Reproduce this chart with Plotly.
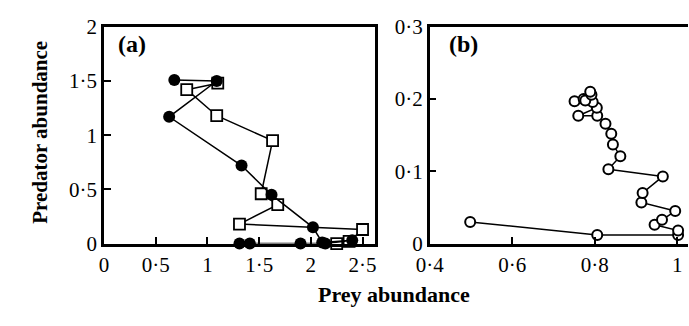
import plotly.graph_objects as go

# Panel (a): filled circles series
a_circ_x = [0.68, 1.09, 0.63, 1.33, 1.62, 2.02, 2.11, 2.40, 2.14, 1.90, 1.41, 1.31]
a_circ_y = [1.51, 1.50, 1.17, 0.72, 0.45, 0.15, 0.01, 0.03, 0.00, 0.00, 0.00, 0.00]
# Panel (a): open squares series
a_sq_x = [1.10, 0.80, 1.09, 1.63, 1.52, 1.68, 1.31, 2.50, 2.37, 2.25]
a_sq_y = [1.48, 1.42, 1.18, 0.95, 0.46, 0.36, 0.18, 0.13, 0.02, 0.00]
# Panel (b): open circles trajectory
b_x = [0.498, 0.806, 1.002, 1.002, 0.945, 0.963, 0.995, 0.913, 0.916, 0.965,
       0.833, 0.862, 0.844, 0.840, 0.826, 0.806, 0.760, 0.805, 0.795, 0.751,
       0.773, 0.777, 0.792, 0.789]
b_y = [0.030, 0.012, 0.012, 0.018, 0.026, 0.033, 0.045, 0.057, 0.070, 0.093,
       0.103, 0.121, 0.137, 0.152, 0.166, 0.177, 0.177, 0.188, 0.196, 0.197,
       0.200, 0.198, 0.206, 0.210]

a_xticks = [0, 0.5, 1, 1.5, 2, 2.5]
a_xtext = ["0", "0·5", "1", "1·5", "2", "2·5"]
a_yticks = [0, 0.5, 1, 1.5, 2]
a_ytext = ["0", "0·5", "1", "1·5", "2"]
b_xticks = [0.4, 0.6, 0.8, 1.0]
b_xtext = ["0·4", "0·6", "0·8", "1"]
b_yticks = [0, 0.1, 0.2, 0.3]
b_ytext = ["0", "0·1", "0·2", "0·3"]

W, H = 689, 326
FONT = "Liberation Serif"

fig = go.Figure()
fig.add_trace(go.Scatter(x=a_sq_x, y=a_sq_y, mode="lines+markers", xaxis="x", yaxis="y",
                         line=dict(color="black", width=1.5),
                         marker=dict(symbol="square", size=11, color="white",
                                     line=dict(color="black", width=1.8)),
                         cliponaxis=False, showlegend=False))
fig.add_trace(go.Scatter(x=a_circ_x, y=a_circ_y, mode="lines+markers", xaxis="x", yaxis="y",
                         line=dict(color="black", width=1.5),
                         marker=dict(symbol="circle", size=12, color="black"),
                         cliponaxis=False, showlegend=False))
fig.add_trace(go.Scatter(x=b_x, y=b_y, mode="lines+markers", xaxis="x2", yaxis="y2",
                         line=dict(color="black", width=1.5),
                         marker=dict(symbol="circle", size=10, color="white",
                                     line=dict(color="black", width=2)),
                         cliponaxis=False, showlegend=False))

ydom = [(H - 250) / H, (H - 16) / H]
axcommon = dict(showgrid=False, zeroline=False, showline=True, linecolor="black",
                linewidth=2.5, ticks="inside", ticklen=7, tickwidth=1.5,
                tickcolor="black", tickfont=dict(family=FONT, size=21, color="black"))

fig.update_layout(
    width=W, height=H,
    margin=dict(l=0, r=0, t=0, b=0),
    plot_bgcolor="white", paper_bgcolor="white",
    xaxis=dict(domain=[92 / W, 369 / W], range=[0, 2.62], tickmode="array",
               tickvals=a_xticks, ticktext=a_xtext, mirror=True, anchor="y", **axcommon),
    yaxis=dict(domain=ydom, range=[0, 2], tickmode="array",
               tickvals=a_yticks, ticktext=a_ytext, mirror=True, anchor="x", **axcommon),
    xaxis2=dict(domain=[425 / W, 1.0], range=[0.4, 1.026], tickmode="array",
                tickvals=b_xticks, ticktext=b_xtext, mirror=True, anchor="y2", **axcommon),
    yaxis2=dict(domain=ydom, range=[0, 0.3], tickmode="array",
                tickvals=b_yticks, ticktext=b_ytext, mirror=False, anchor="x2", **axcommon),
    annotations=[
        dict(text="<b>(a)</b>", x=104 / W, y=(H - 35) / H, xref="paper", yref="paper",
             xanchor="left", yanchor="middle", showarrow=False,
             font=dict(family=FONT, size=24, color="black")),
        dict(text="<b>(b)</b>", x=443 / W, y=(H - 35) / H, xref="paper", yref="paper",
             xanchor="left", yanchor="middle", showarrow=False,
             font=dict(family=FONT, size=24, color="black")),
        dict(text="<b>Prey abundance</b>", x=388 / W, y=(H - 305) / H, xref="paper", yref="paper",
             xanchor="center", yanchor="middle", showarrow=False,
             font=dict(family=FONT, size=22, color="black")),
        dict(text="<b>Predator abundance</b>", x=27 / W, y=(H - 130) / H, xref="paper", yref="paper",
             xanchor="center", yanchor="middle", showarrow=False, textangle=-90,
             font=dict(family=FONT, size=21, color="black")),
    ],
)

fig.write_html("out.html")
